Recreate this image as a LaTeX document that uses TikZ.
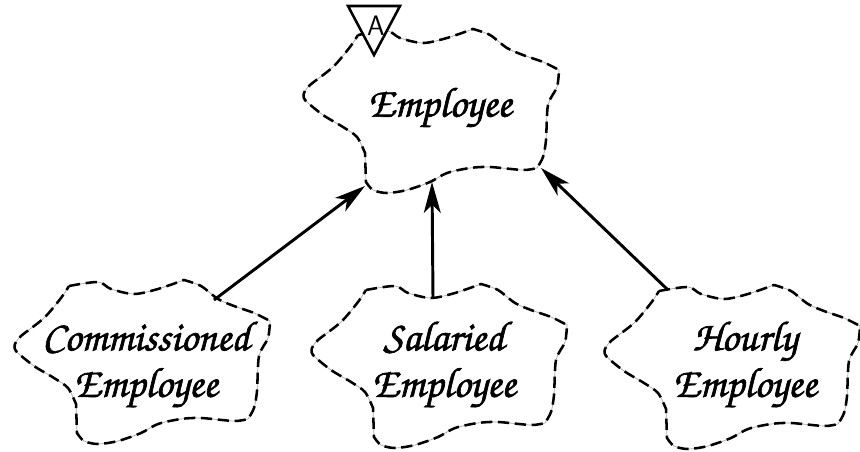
\documentclass[tikz,border=0pt]{standalone}
\usepackage[T1,TU]{fontenc}
\usepackage{tikz}
\usetikzlibrary{arrows.meta,calc}
\newcommand\chancery{\fontencoding{T1}\fontfamily{pzc}\fontseries{mb}\fontshape{it}\fontsize{30}{33}\selectfont}
\newcommand\heavy[1]{\special{pdf:literal direct 2 Tr 0.45 w}#1\special{pdf:literal direct 0 Tr}}

\tikzset{
  cloudline/.style={gray!70, line width=0.5pt,
    postaction={draw, black, line width=1.8pt, dash pattern=on 8pt off 4pt}},
  pics/cloud/.style={code={
    \draw[cloudline]
      plot[smooth] coordinates {(-73,-75) (-44,-79) (-31,-72) (-8,-67) (16,-72) (42,-81)}
      -- plot[smooth] coordinates {(42,-81) (59,-75) (76,-62) (92,-55) (112,-48) (128,-40)}
      -- plot[smooth] coordinates {(128,-40) (126,-23) (117,-5) (115,30) (112,47) (106,58)}
      -- plot[smooth] coordinates {(106,58) (92,60) (59,57) (39,58) (16,63) (-1,72) (-24,80) (-44,83) (-58,80) (-65,72)}
      -- (-66,43)
      -- plot[smooth] coordinates {(-66,43) (-74,27) (-88,17) (-108,5) (-126,-10) (-127,-17)}
      -- plot[smooth] coordinates {(-127,-17) (-121,-25) (-98,-43) (-81,-63) (-73,-75)}
      -- cycle;
    \coordinate (-n) at (-6,-67);
    \coordinate (-ne) at (72,-61);
    \coordinate (-nw) at (-64,-76);
    \coordinate (-s) at (1,72);
    \coordinate (-sw) at (-66,76);
    \coordinate (-se) at (110,58);
  }}
}

\begin{document}
\begin{tikzpicture}[x=0.025cm, y=-0.025cm,
    cls/.style={font=\chancery, align=center, inner sep=0pt},
    arr/.style={-{Stealth[length=22pt, width=12pt, inset=6pt]}, line width=2.1pt}]
  \useasboundingbox (0,0) rectangle (860,452);

  % class clouds
  \pic (emp) at (431,110) {cloud};
  \pic (com) at (142,361) {cloud};
  \pic (sal) at (439,365) {cloud};
  \pic (hou) at (732,366) {cloud};

  \node[cls] (employee) at (440,108) {\heavy{Employee}};
  \node[cls] (commissioned) at (146,365) {\heavy{Commissioned}\\\heavy{Employee}};
  \node[cls] (salaried) at (444,365) {\heavy{Salaried}\\\heavy{Employee}};
  \node[cls] (hourly) at (745,365) {\heavy{Hourly}\\\heavy{Employee}};

  % abstract adornment
  \draw[line width=1.8pt, fill=white] (348,6) -- (400,6) -- (374,55) -- cycle;
  \node[font=\sffamily\fontsize{20}{20}\selectfont, inner sep=0pt] (abs) at (376,26) {A};

  % inheritance
  \draw[arr] (com-ne) -- (emp-sw);
  \draw[arr] (sal-n) -- (emp-s);
  \draw[arr] (hou-nw) -- (emp-se);
\end{tikzpicture}
\end{document}
